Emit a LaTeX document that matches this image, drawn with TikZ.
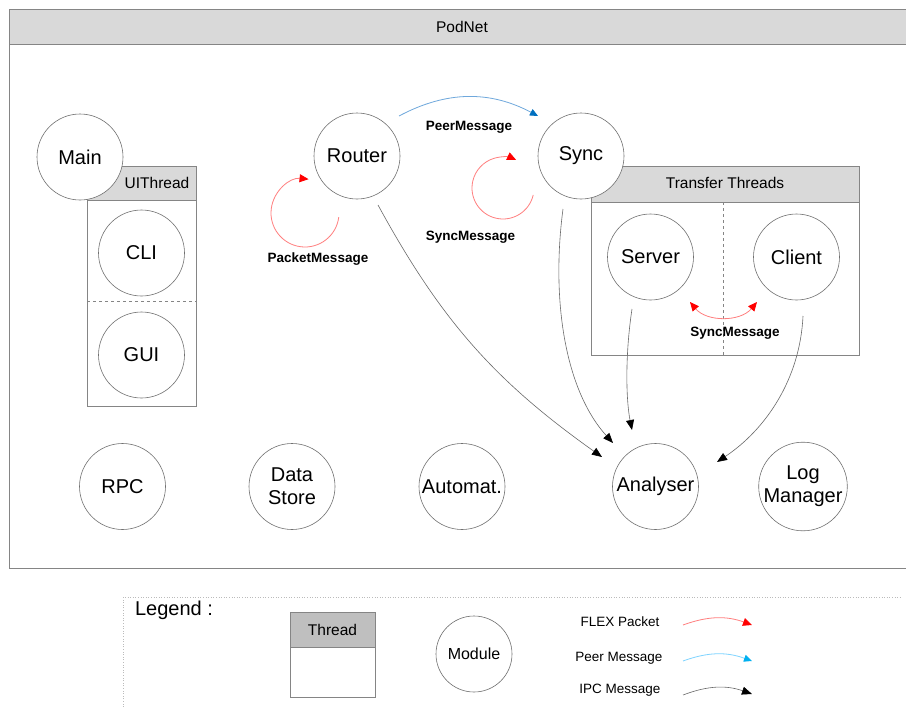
\documentclass[tikz,border=0pt]{standalone}
\usepackage{fontspec}
\setmainfont{Liberation Sans}
\usetikzlibrary{arrows.meta,calc}

\definecolor{hdr}{HTML}{D9D9D9}
\definecolor{hdrdark}{HTML}{BFBFBF}
\definecolor{edge}{HTML}{858585}
\definecolor{ring}{HTML}{707070}
\definecolor{flexline}{HTML}{FF7F7F}
\definecolor{flextip}{HTML}{FF0000}
\definecolor{peerline}{HTML}{6FA8DC}
\definecolor{peertip}{HTML}{0070C0}
\definecolor{legpeerline}{HTML}{7FD4FF}
\definecolor{legpeertip}{HTML}{00B0F0}
\definecolor{ipcline}{HTML}{6A6A6A}
\definecolor{legline}{HTML}{BBBBBB}

\begin{document}
\begin{tikzpicture}[x=1pt,y=1pt,
  module/.style={circle,draw=ring,line width=0.6pt,fill=white,minimum size=86pt,
    inner sep=0pt,align=center,font=\fontsize{20}{23}\selectfont},
  frame/.style={draw=edge,line width=1pt},
  header/.style={frame,fill=hdr},
  boxtitle/.style={font=\fontsize{15.5}{18}\selectfont},
  msglabel/.style={font=\fontsize{13.5}{16}\selectfont\bfseries},
  leglabel/.style={font=\fontsize{13.5}{16}\selectfont},
  flex/.style={draw=flexline,line width=0.8pt,-{Triangle[length=9pt,width=8pt,color=flextip]}},
  flexboth/.style={draw=flexline,line width=0.8pt,
    {Triangle[length=9pt,width=8pt,color=flextip]}-{Triangle[length=9pt,width=8pt,color=flextip]}},
  peer/.style={draw=peerline,line width=0.8pt,-{Triangle[length=8pt,width=7pt,color=peertip]}},
  legpeer/.style={draw=legpeerline,line width=0.8pt,-{Triangle[length=8pt,width=7pt,color=legpeertip]}},
  ipc/.style={draw=ipcline,line width=0.6pt,-{Triangle[length=10pt,width=8pt,color=black]}},
]
\clip (0,0) rectangle (906,-707);
\fill[white] (0,0) rectangle (906,-707);

% PodNet container
\draw[frame,fill=white] (9,-568) rectangle (915,-9);
\draw[header] (9,-44) rectangle (915,-9);
\node[boxtitle] (podnettitle) at (462,-26.5) {PodNet};

% UIThread container
\draw[frame,fill=white] (87,-406) rectangle (196,-166);
\draw[header] (87,-200) rectangle (196,-166);
\draw[draw=edge,line width=0.8pt,dashed] (87,-301) -- (196,-301);
\node[boxtitle] (uititle) at (157,-183) {UIThread};

% Transfer threads container
\draw[frame,fill=white] (591,-355) rectangle (859,-166);
\draw[header] (591,-202) rectangle (859,-166);
\draw[draw=edge,line width=0.8pt,dashed] (723,-202) -- (723,-355);
\node[boxtitle] (trtitle) at (725,-183) {Transfer Threads};

% Modules
\node[module] (main)      at (80,-157)     {Main};
\node[module] (cli)       at (141.5,-253)  {CLI};
\node[module] (gui)       at (141.5,-355)  {GUI};
\node[module] (router)    at (357,-156)    {Router};
\node[module] (sync)      at (581,-156)    {Sync};
\node[module] (server)    at (650.5,-257)  {Server};
\node[module] (client)    at (796.5,-257)  {Client};
\node[module] (rpc)       at (122.5,-486.5) {RPC};
\node[module] (datastore) at (292,-486.5)  {Data\\Store};
\node[module] (automat)   at (462,-486.5)  {Automat.};
\node[module] (analyser)  at (655.5,-486.5) {Analyser};
\node[module] (logmgr)    at (803,-486.5)  {Log\\Manager};

% Peer message between router and sync
\draw[peer] ($(router)+(42,40)$) to[bend left=28] ($(sync)+(-43,40)$);
\node[msglabel] (peerlbl) at (469,-127) {PeerMessage};

% Self loops
\draw[flex] ($(router)+(-52,-57)$) ++(-7:34) arc[start angle=-7,end angle=-276,radius=34];
\node[msglabel] (packetlbl) at (318,-259) {PacketMessage};
\draw[flex] ($(sync)+(-78,-32)$) ++(-13:31) arc[start angle=-13,end angle=-295,radius=31];
\node[msglabel] (synclbl) at (470.5,-237) {SyncMessage};

% Server <-> client
\draw[flexboth] ($(server)+(39.5,-45)$) to[bend right=50] ($(client)+(-39.5,-45)$);
\node[msglabel] (synclbltwo) at (735,-333) {SyncMessage};

% IPC messages towards the analyser
\draw[ipc] ($(router)+(21,-49)$) to[bend right=13] ($(analyser)+(-53.5,29.5)$);
\draw[ipc] ($(sync)+(-18,-53)$) .. controls ($(sync)+(-30,-144)$) and ($(sync)+(-16,-234)$) .. ($(analyser)+(-42.5,43.5)$);
\draw[ipc] ($(server)+(-18.5,-52)$) .. controls ($(server)+(-25.5,-98)$) and ($(server)+(-24.5,-143)$) .. ($(analyser)+(-23.5,56.5)$);
\draw[ipc] ($(client)+(6.5,-59)$) .. controls ($(client)+(3.5,-123)$) and ($(client)+(-31.5,-173)$) .. ($(analyser)+(61.5,24.5)$);

% Legend
\draw[draw=legline,line width=0.6pt,dotted] (123,-712) -- (123,-597) -- (902,-597);
\node[font=\fontsize{20}{23}\selectfont] (legtitle) at (174,-610) {Legend :};
\draw[frame,fill=white] (290,-697) rectangle (375,-612);
\draw[frame,fill=hdrdark] (290,-647) rectangle (375,-612);
\node[boxtitle] (legthread) at (332.5,-629.5) {Thread};
\node[module,minimum size=76pt,font=\fontsize{16}{19}\selectfont] (legmodule) at (474,-654) {Module};

\node[leglabel] (legflex) at (620,-622) {FLEX Packet};
\node[leglabel] (legpeertext) at (619,-658) {Peer Message};
\node[leglabel] (legipc) at (620,-690) {IPC Message};

\coordinate (flexa) at (683,-625);
\coordinate (flexb) at (752,-625);
\coordinate (peera) at (683,-661);
\coordinate (peerb) at (752,-661);
\coordinate (ipca) at (683,-695);
\coordinate (ipcb) at (752,-694);
\draw[flex] (flexa) to[bend left=20] (flexb);
\draw[legpeer] (peera) to[bend left=20] (peerb);
\draw[ipc] (ipca) to[bend left=20] (ipcb);
\end{tikzpicture}
\end{document}
